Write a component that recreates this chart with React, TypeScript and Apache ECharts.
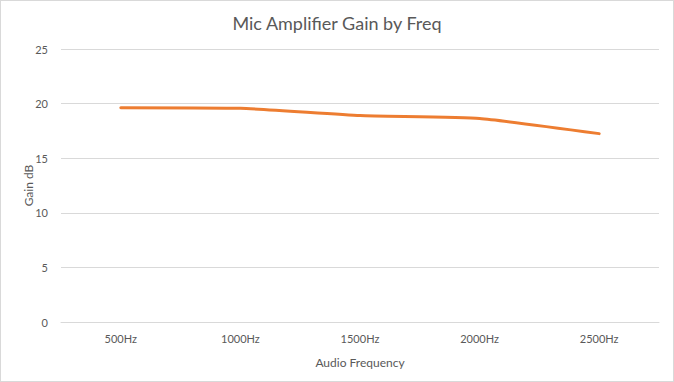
import React, { useEffect, useRef } from "react";
import * as echarts from "echarts";

const categories = ["500Hz", "1000Hz", "1500Hz", "2000Hz", "2500Hz"];
const gainValues = [19.63, 19.57, 18.9, 18.63, 17.25];
const titleText = "Mic Amplifier Gain by Freq";
const xName = "Audio Frequency";
const yName = "Gain dB";

export default function App() {
  const ref = useRef<HTMLDivElement>(null);
  useEffect(() => {
    if (!ref.current) return;
    const chart = echarts.init(ref.current, undefined, { renderer: "svg" });
    const font = "Lato, 'Open Sans', sans-serif";
    chart.setOption({
      animation: false,
      backgroundColor: "#ffffff",
      title: {
        text: titleText,
        left: "center",
        top: 8,
        textStyle: { fontFamily: font, fontSize: 18, fontWeight: "normal", color: "#595959" },
      },
      grid: { left: 60, right: 14, top: 48, bottom: 59, containLabel: false },
      xAxis: {
        type: "category",
        data: categories,
        boundaryGap: true,
        name: xName,
        nameLocation: "middle",
        nameGap: 34,
        nameMoveOverlap: false,
        nameTextStyle: { fontFamily: font, fontSize: 12, color: "#595959" },
        axisLine: { show: true, lineStyle: { color: "#d9d9d9", width: 1 } },
        axisTick: { show: false },
        axisLabel: { fontFamily: font, fontSize: 11, color: "#595959", margin: 11 },
      },
      yAxis: {
        type: "value",
        min: 0,
        max: 25,
        interval: 5,
        name: yName,
        nameLocation: "middle",
        nameGap: 27,
        nameMoveOverlap: false,
        nameRotate: 90,
        nameTextStyle: { fontFamily: font, fontSize: 12, color: "#595959" },
        axisLine: { show: false },
        axisTick: { show: false },
        axisLabel: { fontFamily: font, fontSize: 11, color: "#595959", margin: 13 },
        splitLine: { lineStyle: { color: "#d9d9d9", width: 1 } },
      },
      series: [
        {
          type: "line",
          data: gainValues,
          smooth: 0.15,
          symbol: "none",
          lineStyle: { color: "#ED7D31", width: 3, cap: "round" },
          itemStyle: { color: "#ED7D31" },
        },
      ],
    });
    return () => chart.dispose();
  }, []);
  return (
    <div
      style={{
        position: "fixed",
        left: 0,
        top: 0,
        width: 674,
        height: 382,
        boxSizing: "border-box",
        border: "1px solid #d9d9d9",
        background: "#fff",
      }}
    >
      <div ref={ref} style={{ width: 672, height: 380 }} />
    </div>
  );
}
